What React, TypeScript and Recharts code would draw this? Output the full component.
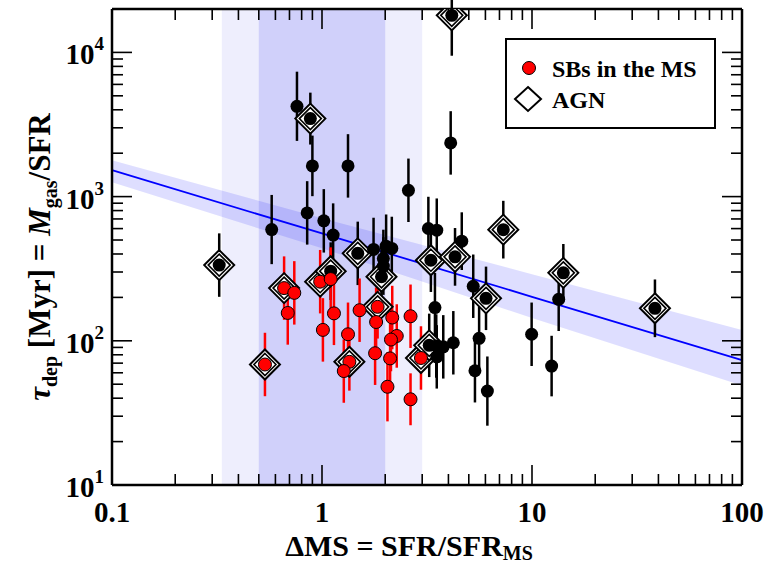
import React from 'react';
import { ComposedChart, Scatter, Line, Area, XAxis, YAxis, ErrorBar, ReferenceArea, Legend } from 'recharts';

// galaxies without AGN flag (x = ΔMS, y = τdep in Myr, err in dex)
const blackX = [0.324, 0.576, 0.76, 0.85, 0.88, 0.9, 1.02, 1.13, 1.1, 1.33, 1.48, 1.76, 2.02, 2.15, 1.96, 1.96, 1.92, 2.58, 3.21, 3.52, 3.3, 4.3, 4.63, 4.1, 4.15, 3.45, 3.24, 3.52, 3.78, 4.22, 3.5, 5.25, 5.6, 5.35, 6.13, 6.04, 7.3, 9.96, 12.4, 13.4, 14.1, 38.5];
const blackY = [335, 591, 4230, 771, 3475, 1633, 679, 541, 304, 1633, 404, 430, 453, 437, 372, 330, 278, 1106, 601, 585, 362, 382, 491, 2357, 18070, 170, 93, 77.4, 90.8, 96.9, 92, 239, 104, 62, 44.8, 197, 590, 111, 66.8, 194, 296, 168];
const blackErr = [0.22, 0.24, 0.24, 0.22, 0.18, 0.21, 0.22, 0.22, 0.2, 0.22, 0.22, 0.22, 0.22, 0.22, 0.2, 0.2, 0.2, 0.22, 0.22, 0.22, 0.22, 0.2, 0.2, 0.22, 0.28, 0.24, 0.22, 0.22, 0.22, 0.22, 0.22, 0.22, 0.22, 0.22, 0.24, 0.22, 0.2, 0.22, 0.21, 0.22, 0.2, 0.2];

// starbursts in the main sequence
const redX = [0.535, 0.66, 0.738, 0.687, 0.98, 1.1, 1.14, 1.01, 1.33, 1.35, 1.27, 1.51, 1.84, 1.81, 1.79, 2.16, 2.27, 2.13, 2.11, 2.05, 2.64, 2.64, 2.96];
const redY = [68.5, 232, 215, 156, 257, 268, 155, 119, 111, 71.5, 61.7, 163, 172, 135, 82, 145, 108, 102, 75.5, 48, 148, 39.3, 76];
const redErr = [0.22, 0.22, 0.22, 0.22, 0.22, 0.22, 0.22, 0.22, 0.22, 0.2, 0.22, 0.22, 0.22, 0.24, 0.22, 0.22, 0.22, 0.22, 0.24, 0.24, 0.22, 0.18, 0.22];

// AGN hosts (diamonds)
const agnX = [0.324, 0.535, 0.66, 0.88, 0.98, 1.1, 1.35, 1.48, 1.84, 1.92, 2.96, 3.24, 3.3, 4.3, 4.15, 6.04, 7.3, 14.1, 38.5];
const agnY = [335, 68.5, 232, 3475, 257, 304, 71.5, 404, 172, 278, 76, 93, 362, 382, 18070, 197, 590, 296, 168];

// best fit and its uncertainty band
const fitX = [0.1, 1, 10, 100];
const fitY = [1524, 555, 202, 73.5];
const fitLo = [1260, 438, 144, 49];
const fitHi = [1786, 708, 290, 119];

const xTicks = [0.1, 0.2, 0.3, 0.4, 0.5, 0.6, 0.7, 0.8, 0.9, 1, 2, 3, 4, 5, 6, 7, 8, 9, 10, 20, 30, 40, 50, 60, 70, 80, 90, 100];
const xMajor = [0.1, 1, 10, 100];
const xMajorLabels = ['0.1', '1', '10', '100'];
const yTicks = [10, 20, 30, 40, 50, 60, 70, 80, 90, 100, 200, 300, 400, 500, 600, 700, 800, 900, 1000, 2000, 3000, 4000, 5000, 6000, 7000, 8000, 9000, 10000, 20000];
const yMajor = [10, 100, 1000, 10000];
const yMajorExp = ['1', '2', '3', '4'];

const PLOT_LEFT = 112;
const PLOT_RIGHT = 742;
const PLOT_TOP = 9;
const PLOT_BOTTOM = 485;
const FONT = '"Liberation Serif", "DejaVu Serif", serif';

const toRows = (xs: number[], ys: number[], errs?: number[]) =>
  xs.map((x, i) => {
    const y = ys[i];
    const row: any = { x, y };
    if (errs) row.err = [y - y / Math.pow(10, errs[i]), y * Math.pow(10, errs[i]) - y];
    return row;
  });

const blackRows = toRows(blackX, blackY, blackErr);
const redRows = toRows(redX, redY, redErr);
const agnRows = toRows(agnX, agnY);
const fitRows = fitX.map((x, i) => ({ x, fit: fitY[i], band: [fitLo[i], fitHi[i]] }));

const XTick = (props: any) => {
  const { x, payload, side } = props;
  const idx = xMajor.indexOf(payload.value);
  const len = idx >= 0 ? 20 : 11;
  const y0 = side === 'bottom' ? PLOT_BOTTOM : PLOT_TOP;
  const y1 = side === 'bottom' ? y0 - len : y0 + len;
  return (
    <g>
      <line x1={x} x2={x} y1={y0} y2={y1} stroke="#000" strokeWidth={1.6} />
      {side === 'bottom' && idx >= 0 && (
        <text x={x} y={522} textAnchor="middle" fontFamily={FONT} fontWeight="bold" fontSize={29} fill="#000">
          {xMajorLabels[idx]}
        </text>
      )}
    </g>
  );
};

const YTick = (props: any) => {
  const { y, payload, side } = props;
  const idx = yMajor.indexOf(payload.value);
  const len = idx >= 0 ? 20 : 11;
  const x0 = side === 'left' ? PLOT_LEFT : PLOT_RIGHT;
  const x1 = side === 'left' ? x0 + len : x0 - len;
  return (
    <g>
      <line x1={x0} x2={x1} y1={y} y2={y} stroke="#000" strokeWidth={1.6} />
      {side === 'left' && idx >= 0 && (
        <text x={104} y={y + 12} textAnchor="end" fontFamily={FONT} fontWeight="bold" fontSize={29} fill="#000">
          10
          <tspan dy={-14} fontSize={19}>{yMajorExp[idx]}</tspan>
        </text>
      )}
    </g>
  );
};

const XTitle = () => (
  <text x={409} y={556} textAnchor="middle" fontFamily={FONT} fontWeight="bold" fontSize={30} fill="#000">
    ΔMS = SFR/SFR<tspan dy={4} fontSize={20}>MS</tspan>
  </text>
);

const YTitle = () => (
  <text transform="translate(50,257) rotate(-90)" textAnchor="middle" fontFamily={FONT} fontWeight="bold" fontSize={31} fill="#000">
    <tspan fontStyle="italic">τ</tspan>
    <tspan dy={7} fontSize={20}>dep</tspan>
    <tspan dy={-7}> [Myr] = </tspan>
    <tspan fontStyle="italic">M</tspan>
    <tspan dy={7} fontSize={20}>gas</tspan>
    <tspan dy={-7}>/SFR</tspan>
  </text>
);

const Dot = (props: any) => <circle cx={props.cx} cy={props.cy} r={6.5} fill="#000" />;
const RedDot = (props: any) => <circle cx={props.cx} cy={props.cy} r={6.5} fill="#ff0000" stroke="#000" strokeWidth={1} />;
const Diamond = (props: any) => {
  const { cx, cy } = props;
  const d = (r: number) => `M${cx},${cy - r} L${cx + r},${cy} L${cx},${cy + r} L${cx - r},${cy} Z`;
  return (
    <g>
      <path d={d(15)} fill="#fff" stroke="#000" strokeWidth={2} />
      <path d={d(11)} fill="#fff" stroke="#000" strokeWidth={1.6} />
    </g>
  );
};

const LegendBox = () => (
  <svg width={211} height={91} style={{ display: 'block' }}>
    <rect x={1} y={1} width={209} height={89} fill="#fff" stroke="#000" strokeWidth={2} />
    <circle cx={24} cy={30} r={6.5} fill="#ff0000" stroke="#000" strokeWidth={1} />
    <text x={47} y={39} fontFamily={FONT} fontWeight="bold" fontSize={24} fill="#000">SBs in the MS</text>
    <path d="M23,49 L36,61 L23,73 L10,61 Z" fill="#fff" stroke="#000" strokeWidth={2} />
    <text x={47} y={70} fontFamily={FONT} fontWeight="bold" fontSize={24} fill="#000">AGN</text>
  </svg>
);

export default function App() {
  return (
    <div style={{ position: 'absolute', left: 0, top: 0, width: 769, height: 564, background: '#fff' }}>
      <ComposedChart
        width={769}
        height={564}
        data={fitRows}
        margin={{ top: PLOT_TOP - 1, right: 769 - PLOT_RIGHT - 1, bottom: 564 - PLOT_BOTTOM - 1, left: PLOT_LEFT - 1 }}
      >
        <ReferenceArea x1={1 / 3} x2={3} fill="#eeeefd" fillOpacity={1} stroke="none" />
        <ReferenceArea x1={0.5} x2={2} fill="#d0d0fa" fillOpacity={1} stroke="none" />
        <Area dataKey="band" type="linear" fill="#0000ff" fillOpacity={0.13} stroke="none" isAnimationActive={false} />
        <Line dataKey="fit" type="linear" stroke="#0000ff" strokeWidth={1.8} dot={false} isAnimationActive={false} />
        <Scatter data={agnRows} dataKey="y" shape={Diamond} isAnimationActive={false} />
        <Scatter data={blackRows} dataKey="y" shape={Dot} isAnimationActive={false}>
          <ErrorBar dataKey="err" direction="y" width={0} stroke="#000" strokeWidth={2.5} />
        </Scatter>
        <Scatter data={redRows} dataKey="y" shape={RedDot} isAnimationActive={false}>
          <ErrorBar dataKey="err" direction="y" width={0} stroke="#ff0000" strokeWidth={2.5} />
        </Scatter>
        <XAxis
          dataKey="x"
          type="number"
          scale="log"
          domain={[0.1, 100]}
          ticks={xTicks}
          interval={0}
          height={1}
          axisLine={{ stroke: '#000', strokeWidth: 2.5 }}
          tickLine={false}
          tick={(p: any) => <XTick {...p} side="bottom" />}
          label={<XTitle />}
        />
        <XAxis
          xAxisId="top"
          orientation="top"
          dataKey="x"
          type="number"
          scale="log"
          domain={[0.1, 100]}
          ticks={xTicks}
          interval={0}
          height={1}
          axisLine={{ stroke: '#000', strokeWidth: 2.5 }}
          tickLine={false}
          tick={(p: any) => <XTick {...p} side="top" />}
        />
        <YAxis
          type="number"
          scale="log"
          domain={[10, 20000]}
          allowDataOverflow
          ticks={yTicks}
          interval={0}
          width={1}
          axisLine={{ stroke: '#000', strokeWidth: 2.5 }}
          tickLine={false}
          tick={(p: any) => <YTick {...p} side="left" />}
          label={<YTitle />}
        />
        <YAxis
          yAxisId="right"
          orientation="right"
          type="number"
          scale="log"
          domain={[10, 20000]}
          allowDataOverflow
          ticks={yTicks}
          interval={0}
          width={1}
          axisLine={{ stroke: '#000', strokeWidth: 2.5 }}
          tickLine={false}
          tick={(p: any) => <YTick {...p} side="right" />}
        />
        <Legend
          layout="vertical"
          align="center"
          verticalAlign="middle"
          content={() => <LegendBox />}
          wrapperStyle={{ position: 'absolute', left: 505, top: 38, width: 211, height: 91 }}
        />
      </ComposedChart>
    </div>
  );
}
